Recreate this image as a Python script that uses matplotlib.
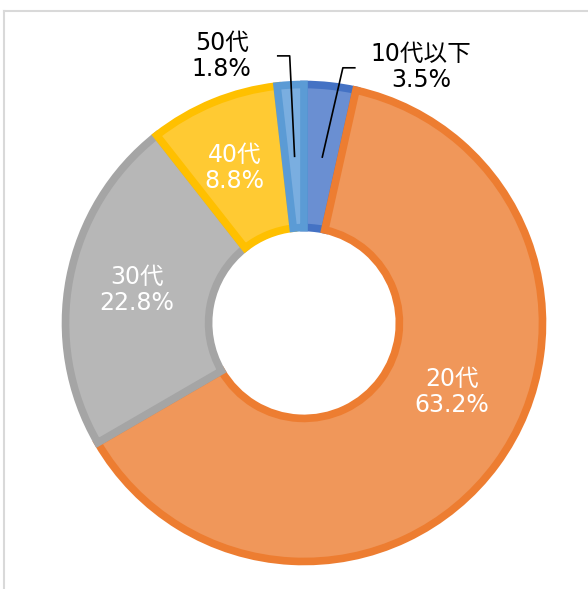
import numpy as np
import matplotlib
matplotlib.use("Agg")
import matplotlib.pyplot as plt
from matplotlib.lines import Line2D

plt.rcParams['font.family'] = ['DejaVu Sans', 'Noto Sans CJK JP']

# data
labels = ["10代以下", "20代", "30代", "40代", "50代"]
values = [3.5, 63.2, 22.8, 8.8, 1.8]
fills = ["#6A8FD2", "#F0975A", "#B7B7B7", "#FFCA33", "#7AAEE0"]
edges = ["#4472C4", "#ED7D31", "#A5A5A5", "#FFC000", "#5B9BD5"]

# layout: pie centre at (304, 323) px, radius 238.5 px
W, H = 588, 589
cx, cy, S = 304, 323, 238.5

fig = plt.figure(figsize=(W / 100, H / 100), dpi=100)
ax = fig.add_axes([0, 0, 1, 1])

wedges, _ = ax.pie(values, startangle=90, counterclock=False, radius=1,
                   colors=fills, normalize=True,
                   wedgeprops=dict(width=0.6, linewidth=5.5))
for w, ec in zip(wedges, edges):
    w.set_edgecolor(ec)
    w.set_joinstyle("miter")

ax.set_xlim(-cx / S, (W - cx) / S)
ax.set_ylim(-(H - cy) / S, cy / S)
ax.set_aspect("auto")
ax.axis("off")

fs = 17
ls = 1.12
# inside labels (white)
inside = {1: (0.62, -0.29), 2: (-0.70, 0.14), 3: (-0.29, 0.65)}
for i, (x, y) in inside.items():
    ax.text(x, y, f"{labels[i]}\n{values[i]}%", color="white", fontsize=fs,
            ha="center", va="center", linespacing=ls)

# outside labels with leader lines
outside = {0: (0.49, 1.075), 4: (-0.345, 1.12)}
for i, (tx, ty) in outside.items():
    w = wedges[i]
    mid = np.deg2rad((w.theta1 + w.theta2) / 2)
    px, py = 0.7 * np.cos(mid), 0.7 * np.sin(mid)
    ax.text(tx, ty, f"{labels[i]}\n{values[i]}%", color="black", fontsize=fs,
            ha="center", va="center", linespacing=ls)
    if i == 0:
        ex, ey = 0.163, 1.07
        ax.plot([px, ex, ex + 0.05], [py, ey, ey], color="black", lw=1.2)
    else:
        ex, ey = -0.06, 1.12
        ax.plot([px, ex, ex - 0.05], [py, ey, ey], color="black", lw=1.2)

# light frame
fig.add_artist(Line2D([4 / W, 4 / W], [0, 1 - 11 / H], color="#D9D9D9", lw=1.5))
fig.add_artist(Line2D([4 / W, 1], [1 - 11 / H, 1 - 11 / H], color="#D9D9D9", lw=1.5))

fig.savefig("out.png", dpi=100)
